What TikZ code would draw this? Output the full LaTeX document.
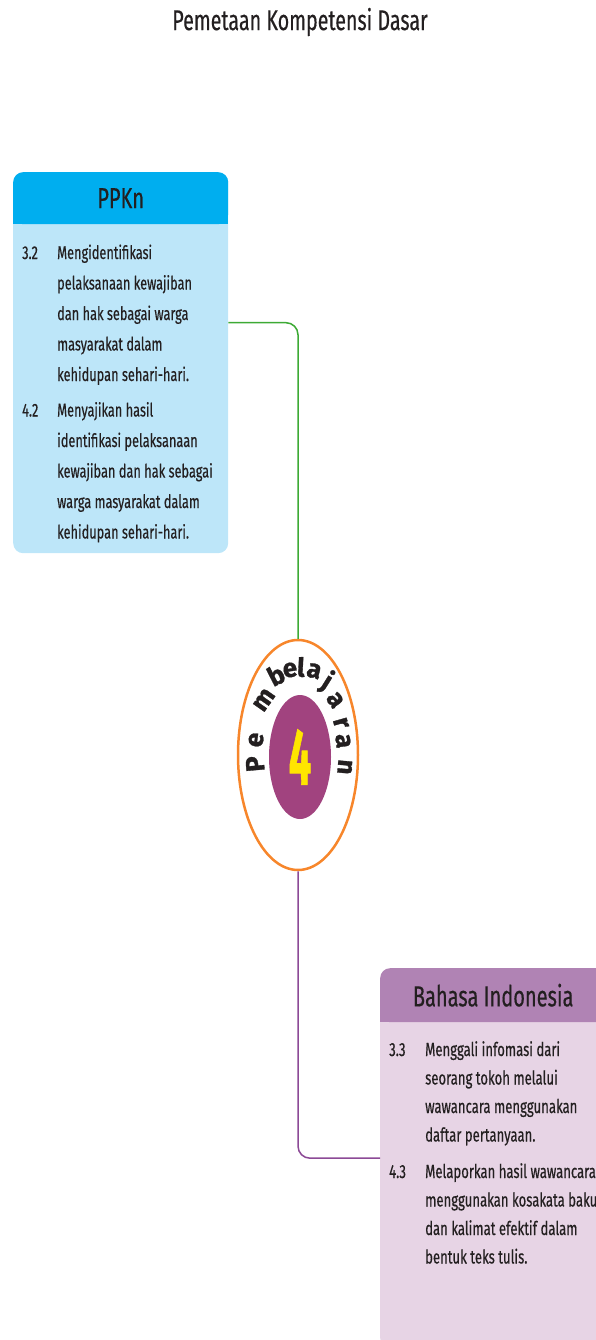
\documentclass[tikz,border=0pt]{standalone}
\usepackage{fontspec}
\setmainfont{Fira Sans}[FakeStretch=0.69, FakeBold=0.4]
\newfontfamily\arcfont{Fira Sans}[FakeBold=1.2]
\usetikzlibrary{positioning,shapes.geometric}
\definecolor{ink}{HTML}{231F20}
\definecolor{ppkntop}{HTML}{00AEEF}
\definecolor{ppknbody}{HTML}{BDE6F9}
\definecolor{ppknline}{HTML}{3DAA35}
\definecolor{bindtop}{HTML}{B083B4}
\definecolor{bindbody}{HTML}{E7D4E5}
\definecolor{bindline}{HTML}{8C4A96}
\definecolor{ringorange}{HTML}{F7862B}
\definecolor{hubpurple}{HTML}{A1437F}
\definecolor{numyellow}{HTML}{FFE500}

\begin{document}
\begin{tikzpicture}[x=1pt, y=-1pt, text=ink,
    card/.style={minimum width=215pt, rounded corners=10pt, inner sep=0pt},
    cardhead/.style={minimum width=215pt, minimum height=52pt, rounded corners=10pt, inner sep=0pt, font=\fontsize{29}{32}\selectfont},
    cardtext/.style={inner sep=0pt, anchor=base west, font=\fontsize{18.5}{30.5}\selectfont},
    arcletter/.style={inner sep=0pt, font=\arcfont\bfseries\fontsize{26}{26}\selectfont}]
  \clip (0,0) rectangle (596,1340);
  \node (title) [font=\fontsize{28.5}{32}\selectfont] at (300,22) {Pemetaan Kompetensi Dasar};

  % PPKn
  \node (ppkn) [card, minimum height=381pt, fill=ppknbody, anchor=north west] at (13,172) {};
  \node (ppknhead) [cardhead, fill=ppkntop, anchor=north] at (ppkn.north) {PPKn};
  \fill[ppkntop] (ppknhead.south west) rectangle ([yshift=10pt]ppknhead.south east);
  \node (ppkntext) [cardtext] at (22,259) {\begin{tabular}[t]{@{}p{35pt}@{}l@{}}
    3.2 & Mengidentifikasi\\
        & pelaksanaan kewajiban\\
        & dan hak sebagai warga\\
        & masyarakat dalam\\
        & kehidupan sehari-hari.\\[5pt]
    4.2 & Menyajikan hasil\\
        & identifikasi pelaksanaan\\
        & kewajiban dan hak sebagai\\
        & warga masyarakat dalam\\
        & kehidupan sehari-hari.
  \end{tabular}};

  % Bahasa Indonesia
  \node (bind) [card, minimum width=226pt, minimum height=380pt, fill=bindbody, anchor=north west] at (380,968) {};
  \node (bindhead) [cardhead, minimum width=226pt, minimum height=54pt, fill=bindtop, anchor=north] at (bind.north) {Bahasa Indonesia};
  \fill[bindtop] (bindhead.south west) rectangle ([yshift=10pt]bindhead.south east);
  \node (bindtext) [cardtext, font=\fontsize{19}{28.5}\selectfont] at (389,1056) {\begin{tabular}[t]{@{}p{36pt}@{}l@{}}
    3.3 & Menggali infomasi dari\\
        & seorang tokoh melalui\\
        & wawancara menggunakan\\
        & daftar pertanyaan.\\[8pt]
    4.3 & Melaporkan hasil wawancara\\
        & menggunakan kosakata baku\\
        & dan kalimat efektif dalam\\
        & bentuk teks tulis.
  \end{tabular}};

  % pembelajaran 4
  \node (hub) [ellipse, draw=ringorange, line width=2.5pt, fill=white, minimum width=120pt, minimum height=230pt, inner sep=0pt] at (298,755) {};
  \node (core) [ellipse, fill=hubpurple, minimum width=62pt, minimum height=124pt, inner sep=0pt] at (300,757) {};
  \node (four) [xscale=0.5, text=numyellow, inner sep=0pt, font=\arcfont\bfseries\fontsize{80}{80}\selectfont] at (core.center) {4};
  \foreach \ch/\x/\y/\r in {P/255/764/95, e/256/740/82, m/264/700/55, b/276/675/27, e/290/670/8, l/301/667/-3,
                          a/314/671/-15, j/327/682/-32, a/335/700/-55, r/341/723/-74, a/343/741/-84, n/345/767/-95}
    \node [rotate=\r, arcletter] at (\x,\y) {\ch};

  \draw[ppknline, line width=1.5pt, rounded corners=12pt] ([yshift=40pt]ppkn.east) -| (hub.north);
  \draw[bindline, line width=1.5pt, rounded corners=12pt] (hub.south) |- (bind.west);
\end{tikzpicture}
\end{document}
